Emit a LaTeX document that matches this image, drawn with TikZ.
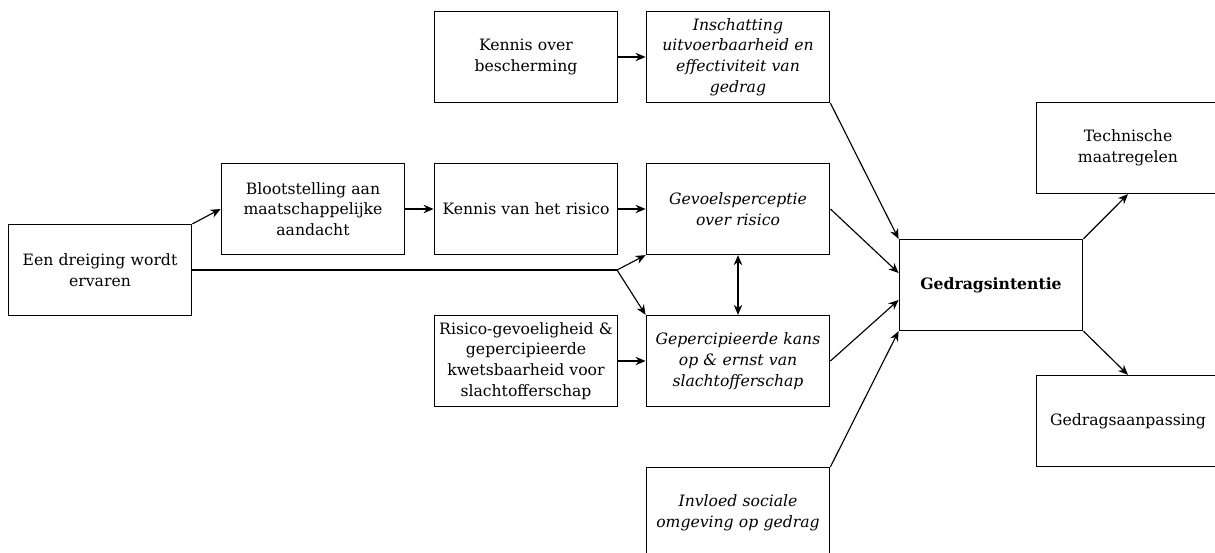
\documentclass[tikz,border=0pt]{standalone}
\usepackage{fontspec}
\setmainfont{DejaVu Serif}
\usepackage{xcolor}
\usepackage{tikz}
\usetikzlibrary{arrows.meta}

\tikzset{
	blok/.style={draw, line width=0.75pt, minimum width=3.66cm, minimum height=1.82cm,
		text width=3.6cm, align=center, inner sep=1pt, font=\fontsize{8.9}{11.8}\selectfont},
	pijl/.style={-{Stealth[length=2mm,width=1.7mm]}, line width=0.65pt},
	tweepijl/.style={{Stealth[length=2mm,width=1.7mm]}-{Stealth[length=2mm,width=1.7mm]}, line width=0.65pt}
}

\begin{document}
\begin{tikzpicture}

	    \useasboundingbox (0,0) rectangle (24.3,-11.06);

	    % kolom links
	    \node[blok] (dreiging) at (2.0,-5.4) {Een dreiging wordt\\ ervaren};
	    \node[blok] (bloot) at (6.26,-4.18) {Blootstelling aan\\ maatschappelijke\\ aandacht};

	    % kennis
	    \node[blok] (kenbesch) at (10.52,-1.14) {Kennis over\\ bescherming};
	    \node[blok] (kenrisico) at (10.52,-4.18) {Kennis van het risico};
	    \node[blok] (gevoeligheid) at (10.52,-7.22) {Risico-gevoeligheid \&\\ gepercipieerde\\ kwetsbaarheid voor\\ slachtofferschap};

	    % percepties
	    \node[blok] (inschatting) at (14.76,-1.14) {\itshape Inschatting\\ uitvoerbaarheid en\\ effectiviteit van\\ gedrag};
	    \node[blok] (gevoel) at (14.76,-4.18) {\itshape Gevoelsperceptie\\ over risico};
	    \node[blok] (kans) at (14.76,-7.22) {\itshape Gepercipieerde kans\\ op \& ernst van\\ slachtofferschap};
	    \node[blok] (invloed) at (14.76,-10.26) {\itshape Invloed sociale\\ omgeving op gedrag};

	    % uitkomst
	    \node[blok] (intentie) at (19.82,-5.7) {\bfseries Gedragsintentie};
	    \node[blok] (techniek) at (22.56,-2.96) {Technische\\ maatregelen};
	    \node[blok] (aanpassing) at (22.56,-8.42) {Gedragsaanpassing};

	    \coordinate (splits) at (12.34,-5.4);

	    \draw[pijl] (dreiging.north east) -- (bloot.west);
	    \draw[line width=0.65pt] (dreiging.east) -- (splits);
	    \draw[pijl] (splits) -- (gevoel.south west);
	    \draw[pijl] (splits) -- (kans.north west);

	    \draw[pijl] (bloot) -- (kenrisico);
	    \draw[pijl] (kenrisico) -- (gevoel);
	    \draw[pijl] (kenbesch) -- (inschatting);
	    \draw[pijl] (gevoeligheid) -- (kans);
	    \draw[tweepijl] (gevoel) -- (kans);

	    \draw[pijl] (inschatting.south east) -- (intentie.north west);
	    \draw[pijl] (gevoel.east) -- ([yshift=0.24cm]intentie.west);
	    \draw[pijl] (kans.east) -- ([yshift=-0.3cm]intentie.west);
	    \draw[pijl] (invloed.north east) -- (intentie.south west);

	    \draw[pijl] (intentie.north east) -- (techniek.south);
	    \draw[pijl] (intentie.south east) -- (aanpassing.north);

\end{tikzpicture}
\end{document}
